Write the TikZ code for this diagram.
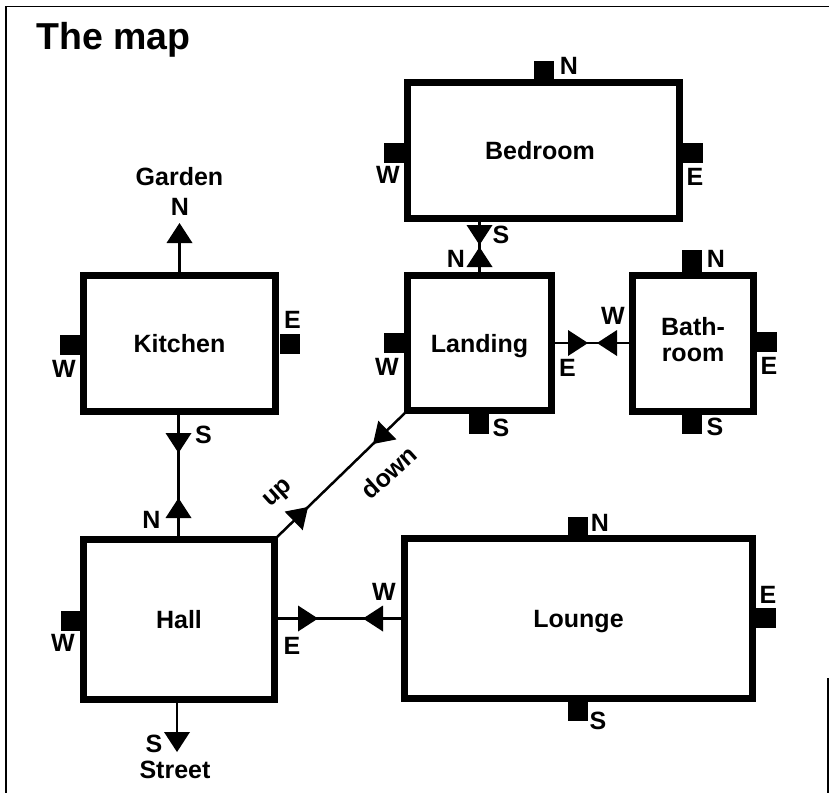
\documentclass[tikz,border=0pt]{standalone}
\usepackage{fontspec}
\setmainfont{Liberation Sans}
\usetikzlibrary{arrows.meta,decorations.markings}
\tikzset{
  x=1pt,y=-1pt,
  head/.tip={Triangle[length=20pt,width=26pt,line width=0pt]},
  room/.style={draw=black,line width=7.4pt,rectangle,inner sep=0pt,outer sep=0pt,font=\bfseries\fontsize{25}{26}\selectfont,text height=18pt,text depth=0pt,align=center},
  stub/.style={fill=black,inner sep=0pt,outer sep=0pt,minimum width=20pt,minimum height=20pt},
  lab/.style={inner sep=0pt,font=\bfseries\fontsize{25}{28}\selectfont},
  conn/.style={line width=2.5pt,draw=black},
  frameline/.style={line width=1.5pt,draw=black},
  tips/.style={decoration={markings,#1},postaction={decorate}}
}
\begin{document}
\begin{tikzpicture}
\useasboundingbox[fill=white] (0,0) rectangle (829,793);
\draw[frameline] (829,6.5) -- (6,6.5) -- (6,793);
\draw[frameline] (828,678) -- (828,793);
\node[inner sep=0pt,anchor=west,font=\bfseries\fontsize{37.5}{40}\selectfont] (title) at (36,40) {The map};
% rooms
\node[room,minimum width=272pt,minimum height=136pt] (bedroom) at (543.5,150.5) {Bedroom\hspace{7pt}};
\node[room,minimum width=192pt,minimum height=136pt] (kitchen) at (179.5,343.5) {Kitchen};
\node[room,minimum width=144pt,minimum height=135pt] (landing) at (479.5,343) {Landing};
\node[room,minimum width=121pt,minimum height=136pt,text height=,text depth=8pt] (bathroom) at (693,343.5) {Bath-\\room};
\node[room,minimum width=191pt,minimum height=160pt] (hall) at (179,619.5) {Hall};
\node[room,minimum width=348pt,minimum height=160pt] (lounge) at (578.5,618.5) {Lounge};
% free ends
\coordinate (garden) at (179.5,223);
\coordinate (street) at (177,752);
% connectors
\draw[conn,-{head}] (kitchen.north) -- (garden);
\draw[conn,-{head}] (hall.south -| street) -- (street);
\draw[conn,tips={mark=at position 41.5pt with {\arrow{head}},mark=at position 86.5pt with {\arrowreversed{head}}}] ([xshift=-1pt]kitchen.south) -- ([xshift=-0.5pt]hall.north);
\draw[conn,tips={mark=at position 26.5pt with {\arrow{head}},mark=at position 28.5pt with {\arrowreversed{head}}}] (landing.north |- bedroom.south) -- (landing.north);
\draw[conn,tips={mark=at position 36.5pt with {\arrow{head}},mark=at position 45.5pt with {\arrowreversed{head}}}] (landing.east) -- (landing.east -| bathroom.west);
\draw[conn,tips={mark=at position 43.5pt with {\arrow{head}},mark=at position 88.5pt with {\arrowreversed{head}}}] (lounge.west -| hall.east) -- (lounge.west);
\draw[conn,tips={mark=at position 46.7pt with {\arrow{head}},mark=at position 137.2pt with {\arrowreversed{head}}}] (hall.north east) -- (landing.south west);
% door stubs
\node[stub] (bedN) at (544,70.5) {};
\node[stub] (bedW) at (393.5,152.5) {};
\node[stub] (bedE) at (692.5,152.5) {};
\node[stub] (lanW) at (393.5,342.5) {};
\node[stub] (lanS) at (478.5,424) {};
\node[stub,minimum height=23pt] (batN) at (692,261.5) {};
\node[stub] (batE) at (767,342) {};
\node[stub] (batS) at (692,424) {};
\node[stub] (kitW) at (70,344.5) {};
\node[stub] (kitE) at (290,344) {};
\node[stub] (halW) at (70.5,620.5) {};
\node[stub] (louN) at (577.5,526.5) {};
\node[stub] (louS) at (577.5,710.5) {};
\node[stub] (louE) at (765.5,617.5) {};
% compass labels
\node[lab] (lbedN) at (569,66) {N};
\node[lab] (lbedW) at (388,175) {W};
\node[lab] (lbedE) at (695,177) {E};
\node[lab] (lbedS) at (501,235) {S};
\node[lab] (llanN) at (456,259) {N};
\node[lab] (llanW) at (387,367) {W};
\node[lab] (llanE) at (567.5,368) {E};
\node[lab] (llanS) at (501,428) {S};
\node[lab] (lbatN) at (716,259) {N};
\node[lab] (lbatW) at (613,316) {W};
\node[lab] (lbatE) at (769,366) {E};
\node[lab] (lbatS) at (715,427) {S};
\node[lab] (lkitN) at (180,207) {N};
\node[lab] (lkitW) at (64,369) {W};
\node[lab] (lkitE) at (292.5,320) {E};
\node[lab] (lkitS) at (203.5,435) {S};
\node[lab] (lhalN) at (151.5,520) {N};
\node[lab] (lhalW) at (63,643) {W};
\node[lab] (lhalE) at (292,646) {E};
\node[lab] (lhalS) at (154,744) {S};
\node[lab] (llouN) at (600,523) {N};
\node[lab] (llouW) at (384,592) {W};
\node[lab] (llouE) at (768,595) {E};
\node[lab] (llouS) at (598,721) {S};
\node[lab] (lgarden) at (179.5,177) {Garden};
\node[lab] (lstreet) at (175,770) {Street};
\node[lab,rotate=42] (lup) at (279,494) {up};
\node[lab,rotate=42] (ldown) at (389,472) {down};
\end{tikzpicture}
\end{document}
